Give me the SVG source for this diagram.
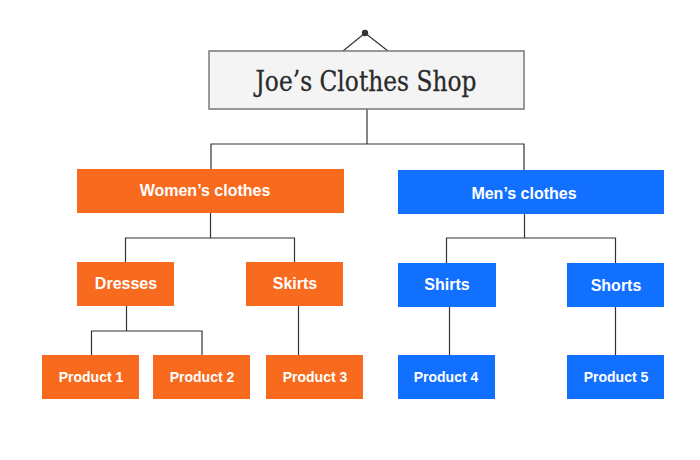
<svg xmlns="http://www.w3.org/2000/svg" width="700" height="460" viewBox="0 0 700 460">
<style>
.orange{fill:#F86A1E}
.blue{fill:#1170FF}
.lbl{font-family:"Liberation Sans",Arial,sans-serif;font-weight:bold;fill:#fff;text-anchor:middle}
.big{font-size:16px}
.small{font-size:14px}
.conn{fill:none;stroke:#333;stroke-width:1.2}
</style>
<rect width="700" height="460" fill="#fff"/>
<g id="connectors">
<polyline class="conn" points="343,51 365,33 388,51"/>
<circle cx="365" cy="33" r="3.2" fill="#333"/>
<polyline class="conn" points="367,109 367,144"/>
<polyline class="conn" points="211,169 211,144 524,144 524,170"/>
<polyline class="conn" points="210.5,213 210.5,238"/>
<polyline class="conn" points="125.5,262 125.5,238 294.5,238 294.5,262"/>
<polyline class="conn" points="524.5,214 524.5,238"/>
<polyline class="conn" points="446.5,263 446.5,238 615.5,238 615.5,263"/>
<polyline class="conn" points="126.5,306 126.5,331"/>
<polyline class="conn" points="91.5,355 91.5,331 202,331 202,355"/>
<polyline class="conn" points="298.5,306 298.5,355"/>
<polyline class="conn" points="449.5,307 449.5,355"/>
<polyline class="conn" points="615.5,307 615.5,355"/>
</g>
<g id="root">
<rect x="209" y="51" width="315" height="58" fill="#F4F4F4" stroke="#7a7a7a" stroke-width="1.5"/>
<text x="366" y="91" font-family="'DejaVu Serif',serif" font-size="27" fill="#2a2a2a" stroke="#2a2a2a" stroke-width="0.3" text-anchor="middle" textLength="221" lengthAdjust="spacingAndGlyphs">Joe’s Clothes Shop</text>
</g>
<g id="women">
<rect class="orange" x="77" y="169" width="267" height="44"/>
<text class="lbl big" x="205" y="196">Women’s clothes</text>
</g>
<g id="men">
<rect class="blue" x="398" y="170" width="266" height="44"/>
<text class="lbl big" x="524" y="199">Men’s clothes</text>
</g>
<g id="dresses">
<rect class="orange" x="77" y="262" width="97" height="44"/>
<text class="lbl big" x="126" y="289">Dresses</text>
</g>
<g id="skirts">
<rect class="orange" x="246" y="262" width="97" height="44"/>
<text class="lbl big" x="295" y="289">Skirts</text>
</g>
<g id="shirts">
<rect class="blue" x="398" y="263" width="98" height="44"/>
<text class="lbl big" x="447" y="290">Shirts</text>
</g>
<g id="shorts">
<rect class="blue" x="567" y="263" width="97" height="44"/>
<text class="lbl big" x="616" y="291">Shorts</text>
</g>
<g id="product1">
<rect class="orange" x="42" y="355" width="97" height="44"/>
<text class="lbl small" x="91" y="382">Product 1</text>
</g>
<g id="product2">
<rect class="orange" x="153" y="355" width="97" height="44"/>
<text class="lbl small" x="202" y="382">Product 2</text>
</g>
<g id="product3">
<rect class="orange" x="266" y="355" width="97" height="44"/>
<text class="lbl small" x="315" y="382">Product 3</text>
</g>
<g id="product4">
<rect class="blue" x="398" y="355" width="97" height="44"/>
<text class="lbl small" x="446" y="382">Product 4</text>
</g>
<g id="product5">
<rect class="blue" x="567" y="355" width="97" height="44"/>
<text class="lbl small" x="616" y="382">Product 5</text>
</g>
</svg>
